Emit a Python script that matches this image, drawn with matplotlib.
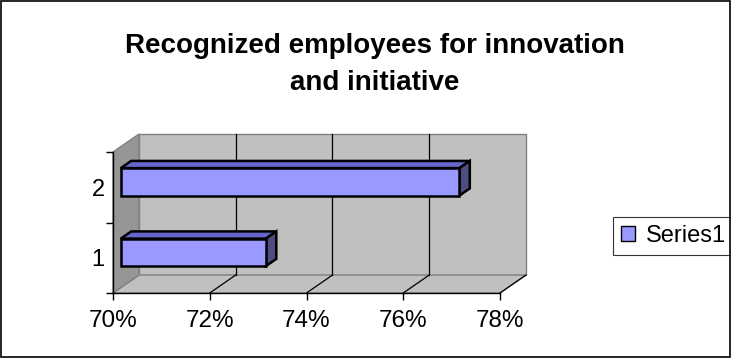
import matplotlib.pyplot as plt
from matplotlib.patches import Polygon, Rectangle
from matplotlib.ticker import FuncFormatter

plt.rcParams['font.family'] = ['Liberation Sans', 'DejaVu Sans']

titleLines = ["Recognized employees for innovation", "and initiative"]
categories = [1, 2]
values = [73, 77]          # percent
seriesName = "Series1"
xTicks = [70, 72, 74, 76, 78]

# oblique depth offset of the back wall, in data units
DX = 0.537
DY = 0.255
barFront = 0.3
barBack = 0.7
barHeight = 0.39

wallColor = "#c0c0c0"
sideColor = "#969696"
edgeGray = "#808080"
barFace = "#9999ff"
barTop = "#6666cc"
barSide = "#4d4d80"


def proj(x, y, f):
    return (x + f * DX, y + f * DY)


fig = plt.figure(figsize=(7.31, 3.58), dpi=100)
ax = fig.add_axes([113 / 731, 65 / 358, 387 / 731, 141 / 358])
ax.set_xlim(70, 78)
ax.set_ylim(0.5, 2.5)
ax.patch.set_visible(False)

# walls and floor
back = Polygon([proj(70, 0.5, 1), proj(78, 0.5, 1), proj(78, 2.5, 1), proj(70, 2.5, 1)],
               closed=True, fc=wallColor, ec=edgeGray, lw=1, zorder=0.5, clip_on=False)
floor = Polygon([proj(70, 0.5, 0), proj(78, 0.5, 0), proj(78, 0.5, 1), proj(70, 0.5, 1)],
                closed=True, fc=wallColor, ec=edgeGray, lw=1, zorder=0.6, clip_on=False)
side = Polygon([proj(70, 0.5, 0), proj(70, 2.5, 0), proj(70, 2.5, 1), proj(70, 0.5, 1)],
               closed=True, fc=sideColor, ec=edgeGray, lw=1, zorder=0.7, clip_on=False)
for p in (back, floor, side):
    ax.add_patch(p)

# gridlines on the back wall and their tracks across the floor
for x in xTicks[1:-1]:
    x0, y0 = proj(x, 0.5, 1)
    x1, y1 = proj(x, 2.5, 1)
    ax.plot([x0, x1], [y0, y1], color="black", lw=0.9, zorder=1, clip_on=False)
for x in xTicks[1:]:
    a = proj(x, 0.5, 0)
    b = proj(x, 0.5, 1)
    ax.plot([a[0], b[0]], [a[1], b[1]], color="black", lw=0.9, zorder=1, clip_on=False)

# 3d bars
for i, (c, v) in enumerate(zip(categories, values)):
    left, y = proj(70, c, barFront)
    ax.barh(y, v - 70, height=barHeight, left=left, color=barFace, edgecolor="black",
            lw=1.8, zorder=4, clip_on=False, label=seriesName if i == 0 else None)
    lo, hi = c - barHeight / 2, c + barHeight / 2
    top = Polygon([proj(70, hi, barFront), proj(v, hi, barFront),
                   proj(v, hi, barBack), proj(70, hi, barBack)],
                  closed=True, fc=barTop, ec="black", lw=1.8, zorder=3, clip_on=False)
    end = Polygon([proj(v, lo, barFront), proj(v, hi, barFront),
                   proj(v, hi, barBack), proj(v, lo, barBack)],
                  closed=True, fc=barSide, ec="black", lw=1.8, zorder=3, clip_on=False)
    ax.add_patch(top)
    ax.add_patch(end)

for s in ("top", "right"):
    ax.spines[s].set_visible(False)
for s in ("left", "bottom"):
    ax.spines[s].set_color("black")
    ax.spines[s].set_linewidth(1)
    ax.spines[s].set_zorder(2)

ax.set_xticks(xTicks)
ax.xaxis.set_major_formatter(FuncFormatter(lambda v, p: "%d%%" % v))
ax.tick_params(axis="x", direction="out", length=5, width=1, labelsize=17.5, pad=7)
ax.set_yticks([0.5, 1.5, 2.5])
ax.set_yticklabels([])
ax.set_yticks(categories, minor=True)
ax.set_yticklabels([str(c) for c in categories], minor=True)
ax.tick_params(axis="y", which="major", direction="out", length=5, width=1)
ax.tick_params(axis="y", which="minor", length=0, labelsize=17, pad=6)

# two-line title, one baseline per line
for line, base in zip(titleLines, [53, 90]):
    fig.text(375 / 731, 1 - base / 358, line, ha="center", va="baseline",
             fontsize=20, fontweight="bold")

leg = ax.legend(loc="center left", bbox_to_anchor=(613 / 731, 1 - 236 / 358),
                bbox_transform=fig.transFigure, fontsize=17, frameon=True,
                fancybox=False, edgecolor="black", handlelength=0.6, handleheight=0.6,
                handletextpad=0.45, borderpad=0.35, borderaxespad=0)
leg.get_frame().set_linewidth(0.8)
for h in leg.legend_handles:
    h.set_linewidth(1)

fig.add_artist(Rectangle((1 / 731, 1 / 358), 729 / 731, 356 / 358, transform=fig.transFigure,
                         fill=False, ec="black", lw=1.2))

fig.savefig("out.png", dpi=100)
